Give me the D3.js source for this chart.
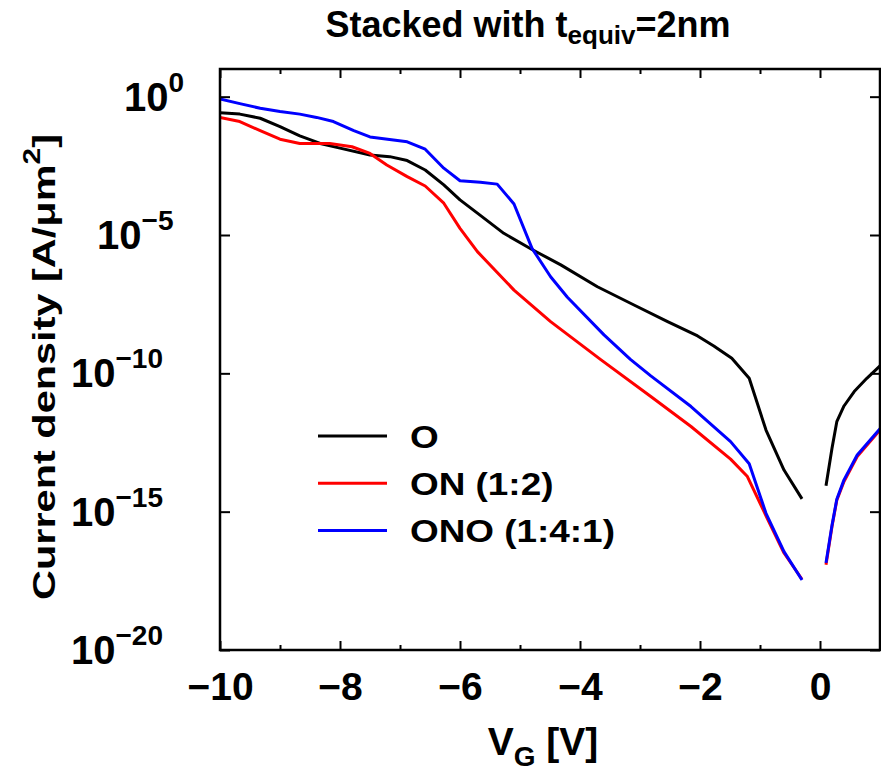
<!DOCTYPE html>
<html>
<head>
<meta charset="utf-8">
<script src="https://cdn.jsdelivr.net/npm/d3@7"></script>
<style>
  body { margin: 0; background: #fff; }
  text { font-family: "Liberation Sans", Arial, Helvetica, sans-serif; font-weight: bold; fill: #000; }
</style>
</head>
<body>
<script>
// size variables
var width = 881, height = 769;

// O : gate voltage [V] and current density [A/um^2], negative and positive branch
var vO    = [-10, -9.67, -9.33, -9, -8.67, -8.33, -8, -7.5, -7.17, -6.88, -6.58, -6.27, -6, -5.71, -5.27, -4.8, -4.32, -3.71, -3.1, -2.54, -2.04, -1.77, -1.47, -1.18, -0.9, -0.6, -0.3];
var jO    = [2.63e-1, 2.34e-1, 1.66e-1, 8.3e-2, 3.8e-2, 2.04e-2, 1.38e-2, 7.8e-3, 6.8e-3, 4.9e-3, 2.24e-3, 6.5e-4, 1.86e-4, 6.2e-5, 1.15e-5, 3.0e-6, 8.3e-7, 1.35e-7, 2.95e-8, 7.4e-9, 2.24e-9, 9.8e-10, 3.5e-10, 6.6e-11, 8.9e-13, 3.2e-14, 2.9e-15];
var vOpos = [0.1, 0.2, 0.28, 0.4, 0.57, 0.78, 1.0];
var jOpos = [8.7e-15, 1.95e-13, 1.78e-12, 6.6e-12, 2.2e-11, 6.6e-11, 1.86e-10];

// ON (1:2)
var vON    = [-10, -9.67, -9.33, -9, -8.67, -8.17, -7.8, -7.5, -7.22, -6.88, -6.58, -6.27, -6, -5.71, -5.1, -4.49, -3.66, -2.82, -2.15, -1.49, -1.21, -0.9, -0.6, -0.3];
var jON    = [1.78e-1, 1.26e-1, 5.9e-2, 2.9e-2, 2.04e-2, 2.04e-2, 1.55e-2, 8.9e-3, 3.4e-3, 1.29e-3, 5.9e-4, 1.41e-4, 1.74e-5, 2.5e-6, 1.02e-7, 7.4e-9, 3.2e-10, 1.45e-11, 1.2e-12, 7.9e-14, 1.86e-14, 7.1e-16, 3.2e-17, 3.6e-18];
var vONpos = [0.1, 0.2, 0.28, 0.4, 0.62, 1.0];
var jONpos = [1.2e-17, 2.9e-16, 2.6e-15, 1.23e-14, 9.8e-14, 8.9e-13];

// ONO (1:4:1)
var vONO    = [-10, -9.67, -9.33, -9, -8.67, -8.39, -8.11, -7.77, -7.5, -6.88, -6.58, -6.27, -6, -5.66, -5.38, -5.1, -4.8, -4.49, -4.21, -3.6, -3.16, -2.82, -2.15, -1.49, -1.18, -0.9, -0.6, -0.3];
var jONO    = [8.3e-1, 5.6e-1, 3.8e-1, 2.9e-1, 2.34e-1, 1.78e-1, 1.26e-1, 5.9e-2, 3.5e-2, 2.34e-2, 1.26e-2, 2.6e-3, 9.1e-4, 8.1e-4, 6.9e-4, 1.32e-4, 3.3e-6, 3.1e-7, 5.6e-8, 2.45e-9, 3.2e-10, 8.1e-11, 6.3e-12, 3.4e-13, 5.4e-14, 8.7e-16, 3.6e-17, 3.4e-18];
var vONOpos = [0.1, 0.2, 0.28, 0.4, 0.62, 1.0];
var jONOpos = [1.41e-17, 3.2e-16, 2.8e-15, 1.41e-14, 1.12e-13, 1.0e-12];

// ticks and labels
var xMajor = [-10, -8, -6, -4, -2, 0];
var xMinor = [-9, -7, -5, -3, -1];
var yTicks = [1e0, 1e-5, 1e-10, 1e-15, 1e-20];
var names  = ['O', 'ON (1:2)', 'ONO (1:4:1)'];
var colors = ['#000000', '#ff0000', '#0000ff'];

// plot box
var pLeft = 220, pRight = 880, pTop = 69, pBottom = 650;

var svg = d3.select('body').append('svg').attr('width', width).attr('height', height);

var x = d3.scaleLinear().domain([-10, 1]).range([pLeft, pRight]);
var y = d3.scaleLog().domain([1e-20, 1e1]).range([pBottom, pTop]);

svg.append('defs').append('clipPath').attr('id', 'clip')
  .append('rect').attr('x', pLeft).attr('y', pTop).attr('width', pRight - pLeft).attr('height', pBottom - pTop);

// curves
var series = [
  [[vO, jO], [vOpos, jOpos]],
  [[vON, jON], [vONpos, jONpos]],
  [[vONO, jONO], [vONOpos, jONOpos]]
];
var line = d3.line().x(d => x(d[0])).y(d => y(d[1]));
var plot = svg.append('g').attr('clip-path', 'url(#clip)');
series.forEach(function(branches, i) {
  branches.forEach(function(b) {
    plot.append('path')
      .datum(d3.zip(b[0], b[1]))
      .attr('d', line)
      .attr('fill', 'none')
      .attr('stroke', colors[i])
      .attr('stroke-width', 3)
      .attr('stroke-linejoin', 'round');
  });
});

// axes (ticks point inwards)
function styleAxis(g) {
  g.select('.domain').remove();
  g.selectAll('.tick line').attr('stroke', '#000').attr('stroke-width', 2);
}
svg.append('g').attr('transform', 'translate(0,' + pBottom + ')')
  .call(d3.axisBottom(x).tickValues(xMajor).tickSize(-9).tickPadding(22))
  .call(styleAxis)
  .call(g => g.attr('font-family', null).attr('font-size', null))
  .call(g => g.selectAll('text').attr('font-size', 39));
svg.append('g').attr('transform', 'translate(0,' + pBottom + ')')
  .call(d3.axisBottom(x).tickValues(xMinor).tickSize(-5).tickFormat(''))
  .call(styleAxis);
svg.append('g').attr('transform', 'translate(0,' + pTop + ')')
  .call(d3.axisTop(x).tickValues(xMajor).tickSize(-9).tickFormat(''))
  .call(styleAxis);
svg.append('g').attr('transform', 'translate(0,' + pTop + ')')
  .call(d3.axisTop(x).tickValues(xMinor).tickSize(-5).tickFormat(''))
  .call(styleAxis);
svg.append('g').attr('transform', 'translate(' + pLeft + ',0)')
  .call(d3.axisLeft(y).tickValues(yTicks).tickSize(-10).tickFormat(''))
  .call(styleAxis);
svg.append('g').attr('transform', 'translate(' + pRight + ',0)')
  .call(d3.axisRight(y).tickValues(yTicks).tickSize(-10).tickFormat(''))
  .call(styleAxis);

// frame
svg.append('rect')
  .attr('x', pLeft).attr('y', pTop).attr('width', pRight - pLeft).attr('height', pBottom - pTop)
  .attr('fill', 'none').attr('stroke', '#000').attr('stroke-width', 2.5);

// y tick labels 10^n
yTicks.forEach(function(t) {
  var e = Math.round(Math.log10(t));
  var sup = e === 0 ? '0' : '\u2212' + Math.abs(e);
  var txt = svg.append('text')
    .attr('x', 194.5 - 10.5 * sup.length)
    .attr('y', y(t) + 14)
    .attr('text-anchor', 'end')
    .attr('font-size', 40);
  txt.append('tspan').text('10');
  txt.append('tspan').attr('dy', -19).attr('font-size', 28).text(sup);
});

// title
var title = svg.append('text').attr('x', 528).attr('y', 37).attr('text-anchor', 'middle').attr('font-size', 36);
title.append('tspan').text('Stacked with t');
title.append('tspan').attr('dy', 7).attr('font-size', 26).text('equiv');
title.append('tspan').attr('dy', -7).text('=2nm');

// x label
var xl = svg.append('text').attr('x', 543).attr('y', 755).attr('text-anchor', 'middle').attr('font-size', 39);
xl.append('tspan').text('V');
xl.append('tspan').attr('dy', 11).attr('font-size', 28).text('G');
xl.append('tspan').attr('dy', -11).text(' [V]');

// y label
var yl = svg.append('text')
  .attr('transform', 'translate(55,367) rotate(-90)')
  .attr('text-anchor', 'middle')
  .attr('font-size', 32)
  .attr('textLength', 466)
  .attr('lengthAdjust', 'spacingAndGlyphs');
yl.append('tspan').text('Current density [A/\u03bcm');
yl.append('tspan').attr('dy', -15).attr('font-size', 23).text('2');
yl.append('tspan').attr('dy', 15).text(']');

// legend
var legend = svg.append('g');
names.forEach(function(n, i) {
  var ly = 436 + i * 47.3;
  legend.append('line')
    .attr('x1', 318).attr('x2', 387).attr('y1', ly).attr('y2', ly)
    .attr('stroke', colors[i]).attr('stroke-width', 3);
  legend.append('text')
    .attr('transform', 'translate(410,' + (ly + 11.5) + ') scale(1.19,1)')
    .attr('font-size', 31)
    .text(n);
});
</script>
</body>
</html>
